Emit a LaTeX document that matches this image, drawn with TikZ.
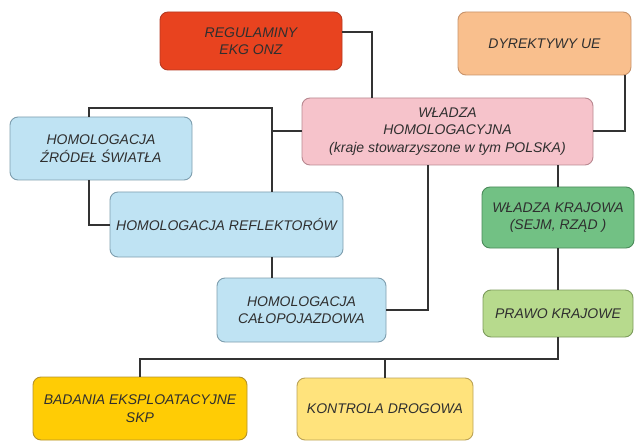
\documentclass[tikz,border=0pt]{standalone}
\usepackage{fontspec}
\setmainfont{Liberation Sans}
\definecolor{cReg}{HTML}{E8431F}
\definecolor{cRegB}{HTML}{B53A22}
\definecolor{cDyr}{HTML}{F9BF8D}
\definecolor{cDyrB}{HTML}{C8936A}
\definecolor{cWh}{HTML}{F6C3CB}
\definecolor{cWhB}{HTML}{B88890}
\definecolor{cBlue}{HTML}{BFE3F3}
\definecolor{cBlueB}{HTML}{7E9EAE}
\definecolor{cWk}{HTML}{72C184}
\definecolor{cWkB}{HTML}{4B8A5A}
\definecolor{cPk}{HTML}{B7DA8D}
\definecolor{cPkB}{HTML}{7C9B5C}
\definecolor{cBad}{HTML}{FFCC05}
\definecolor{cBadB}{HTML}{B4922A}
\definecolor{cKon}{HTML}{FFE37C}
\definecolor{cKonB}{HTML}{BAA257}
\definecolor{cTxt}{HTML}{2F2F2F}
\definecolor{cLine}{HTML}{333333}
\begin{document}
\begin{tikzpicture}[x=1pt,y=-1pt,
  box/.style={draw, line width=0.9pt, rounded corners=8pt, align=center,
    inner sep=0pt, text=cTxt,
    font=\fontsize{14}{17.5}\selectfont\itshape},
  conn/.style={draw=cLine, line width=2pt}]
\useasboundingbox (0,0) rectangle (635,441);
\node[box, fill=cReg, draw=cRegB, minimum width=182pt, minimum height=58pt] (reg) at (251,41) {REGULAMINY\\EKG ONZ};
\node[box, fill=cDyr, draw=cDyrB, minimum width=173pt, minimum height=63pt] (dyr) at (544.5,43.5) {DYREKTYWY UE};
\node[box, fill=cWh, draw=cWhB, minimum width=291pt, minimum height=67pt] (wh) at (447.5,131.5) {WŁADZA\\HOMOLOGACYJNA\\(kraje stowarzyszone w tym POLSKA)};
\node[box, fill=cBlue, draw=cBlueB, minimum width=182pt, minimum height=63pt] (zr) at (101,148.5) {HOMOLOGACJA\\ŹRÓDEŁ ŚWIATŁA};
\node[box, fill=cBlue, draw=cBlueB, minimum width=233pt, minimum height=65pt] (ref) at (226.5,224.5) {HOMOLOGACJA REFLEKTORÓW};
\node[box, fill=cBlue, draw=cBlueB, minimum width=169pt, minimum height=64pt] (cal) at (301.5,310) {HOMOLOGACJA\\CAŁOPOJAZDOWA};
\node[box, fill=cWk, draw=cWkB, minimum width=152pt, minimum height=61pt] (wk) at (558,217.5) {WŁADZA KRAJOWA\\(SEJM, RZĄD )};
\node[box, fill=cPk, draw=cPkB, minimum width=150pt, minimum height=47pt] (pk) at (558,313.5) {PRAWO KRAJOWE};
\node[box, fill=cBad, draw=cBadB, minimum width=214pt, minimum height=63pt] (bad) at (140,408.5) {BADANIA EKSPLOATACYJNE\\SKP};
\node[box, fill=cKon, draw=cKonB, minimum width=176pt, minimum height=62pt] (kon) at (385,409) {KONTROLA DROGOWA};
% connectors
\path[conn] (reg.east |- 0,32) -| (wh.north -| 372,0);
\path[conn] (dyr.south -| 625,0) |- (wh.east);
\path[conn] (wh.west) -- (wh.west -| 272,0);
\coordinate (top) at (272,108);
\path[conn] (zr.north -| 89,0) |- (top) -- (ref.north -| top);
\path[conn] (zr.south -| 89,0) |- (ref.west);
\path[conn] (ref.south -| top) -- (cal.north -| top);
\path[conn] (wh.south -| 428,0) |- (cal.east);
\path[conn] (wh.south -| wk.north) -- (wk.north);
\path[conn] (wk.south) -- (pk.north);
\coordinate (bot) at (0,359);
\path[conn] (pk.south) |- (bad.north |- bot) -- (bad.north);
\path[conn] (kon.north) -- (kon.north |- bot);
\end{tikzpicture}
\end{document}
